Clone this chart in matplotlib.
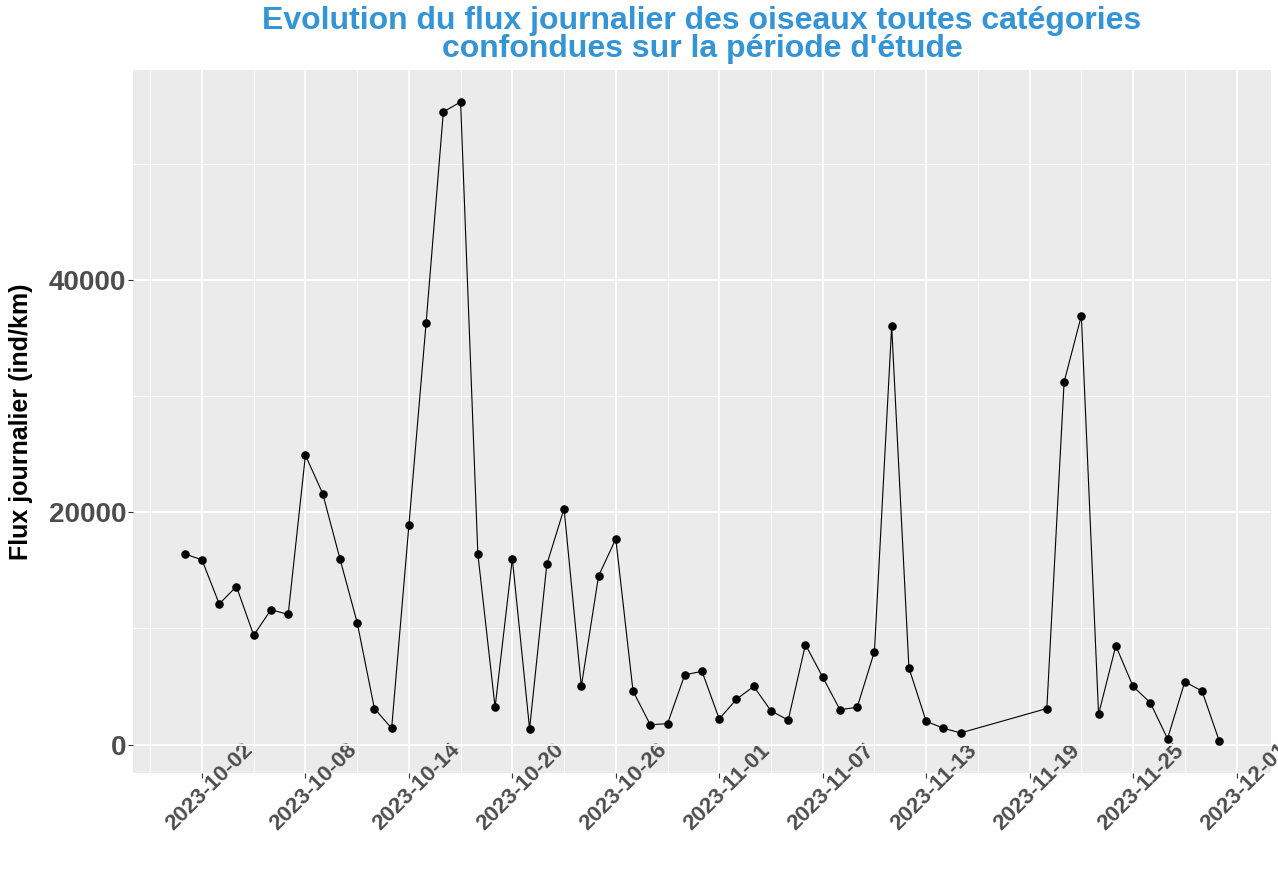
import matplotlib
matplotlib.use("Agg")
import matplotlib.pyplot as plt
import matplotlib.dates as mdates
import matplotlib.transforms as mtransforms
import numpy as np
import pandas as pd

dates = ["2023-10-01", "2023-10-02", "2023-10-03", "2023-10-04", "2023-10-05",
         "2023-10-06", "2023-10-07", "2023-10-08", "2023-10-09", "2023-10-10",
         "2023-10-11", "2023-10-12", "2023-10-13", "2023-10-14", "2023-10-15",
         "2023-10-16", "2023-10-17", "2023-10-18", "2023-10-19", "2023-10-20",
         "2023-10-21", "2023-10-22", "2023-10-23", "2023-10-24", "2023-10-25",
         "2023-10-26", "2023-10-27", "2023-10-28", "2023-10-29", "2023-10-30",
         "2023-10-31", "2023-11-01", "2023-11-02", "2023-11-03", "2023-11-04",
         "2023-11-05", "2023-11-06", "2023-11-07", "2023-11-08", "2023-11-09",
         "2023-11-10", "2023-11-11", "2023-11-12", "2023-11-13", "2023-11-14",
         "2023-11-15", "2023-11-20", "2023-11-21", "2023-11-22", "2023-11-23",
         "2023-11-24", "2023-11-25", "2023-11-26", "2023-11-27", "2023-11-28",
         "2023-11-29", "2023-11-30"]
flux = [16400, 15900, 12100, 13600, 9400,
        11600, 11200, 24900, 21600, 16000,
        10500, 3100, 1400, 18850, 36300,
        54450, 55300, 16400, 3200, 16000,
        1350, 15500, 20300, 5000, 14500,
        17700, 4600, 1700, 1800, 6000,
        6300, 2200, 3900, 5000, 2900,
        2100, 8600, 5800, 3000, 3200,
        8000, 36000, 6600, 2000, 1400,
        1000, 3100, 31200, 36900, 2600,
        8500, 5000, 3600, 500, 5400,
        4600, 300]
major_ticks = ["2023-10-02", "2023-10-08", "2023-10-14", "2023-10-20", "2023-10-26",
               "2023-11-01", "2023-11-07", "2023-11-13", "2023-11-19", "2023-11-25",
               "2023-12-01"]
y_ticks = [0, 20000, 40000]
y_minor = [10000, 30000, 50000]
title_lines = ["Evolution du flux journalier des oiseaux toutes catégories",
               "confondues sur la période d'étude"]
ylabel = "Flux journalier (ind/km)"

d = pd.to_datetime(dates)
t_major = pd.to_datetime(major_ticks)
t_minor = t_major - pd.Timedelta(days=3)

plt.rcParams['font.family'] = ['Liberation Sans', 'DejaVu Sans']

fig = plt.figure(figsize=(12.78, 8.83), dpi=100)
ax = fig.add_axes([133/1278, 1 - 773/883, (1271-133)/1278, (773-70)/883])
ax.set_facecolor('#EBEBEB')
for s in ax.spines.values():
    s.set_visible(False)

ax.plot(d, flux, color='black', linewidth=0.8, zorder=3)
ax.scatter(d, flux, s=38, color='black', zorder=4, linewidths=0)

ax.set_xticks(t_major)
ax.set_xticks(t_minor, minor=True)
ax.xaxis.set_major_formatter(mdates.DateFormatter('%Y-%m-%d'))
ax.set_yticks(y_ticks)
ax.set_yticks(y_minor, minor=True)
ax.set_yticklabels([str(v) for v in y_ticks])

span = (d.max() - d.min()) * 0.05
ax.set_xlim(d.min() - span, d.max() + span)
yr = max(flux) - min(flux)
ax.set_ylim(min(flux) - 0.05 * yr, max(flux) + 0.05 * yr)

ax.grid(which='major', color='white', linewidth=1.3, zorder=0)
ax.grid(which='minor', color='white', linewidth=0.6, zorder=0)
ax.set_axisbelow(True)

ax.tick_params(axis='both', which='major', length=3.5, width=0.8, color='#333333')
ax.tick_params(axis='both', which='minor', length=0)
ax.tick_params(axis='y', labelsize=20, labelcolor='#4D4D4D', pad=1.5)
ax.tick_params(axis='x', labelsize=16, labelcolor='#4D4D4D', pad=6.5)
for lab in ax.get_yticklabels():
    lab.set_fontweight('bold')
offset = mtransforms.ScaledTranslation(8/100, 0, fig.dpi_scale_trans)
for lab in ax.get_xticklabels():
    lab.set_fontweight('bold')
    lab.set_rotation(45)
    lab.set_ha('center')
    lab.set_va('center')
    lab.set_rotation_mode('anchor')
    lab.set_transform(lab.get_transform() + offset)

ax.set_ylabel(ylabel, fontsize=18, fontweight='bold', color='black')
ax.yaxis.set_label_coords(-100/1138, 0.5)

fig.text(702/1278, 1 - 29/883, title_lines[0], ha='center', va='baseline', fontsize=23,
         fontweight='bold', color='#3394D6')
fig.text(702/1278, 1 - 57.5/883, title_lines[1], ha='center', va='baseline', fontsize=23,
         fontweight='bold', color='#3394D6')

fig.savefig('out.png', dpi=100)
